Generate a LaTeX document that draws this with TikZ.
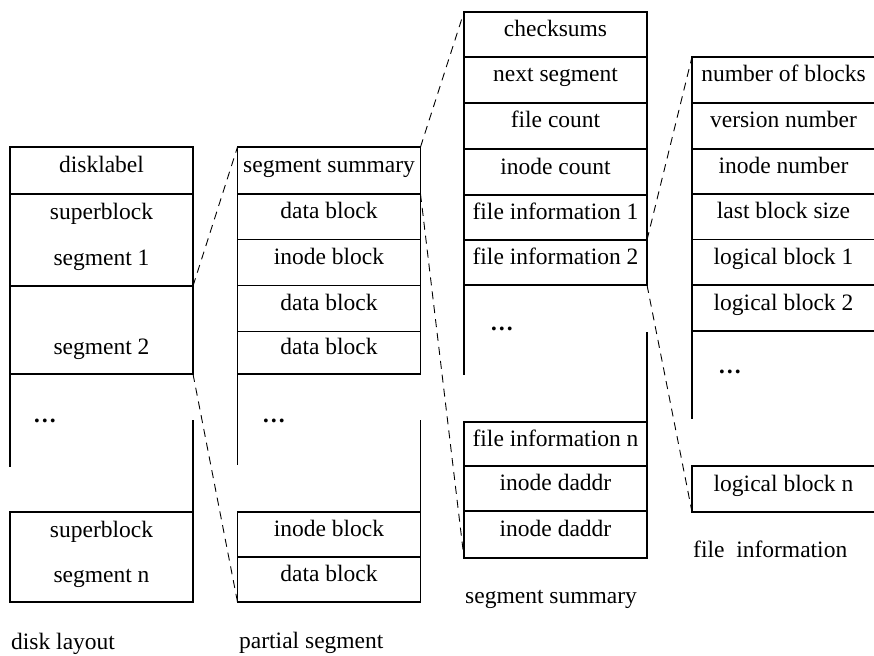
\documentclass[tikz,border=0pt]{standalone}
\usepackage{fontspec}
\setmainfont{Liberation Serif}
\usepackage{tikz}

\begin{document}
\begin{tikzpicture}[x=1pt, y=-1pt,
  font=\fontsize{23.5pt}{28pt}\selectfont,
  cell/.style={draw, line width=1.1pt, minimum width=183pt, inner sep=0pt,
               outer sep=0pt, text height=9pt, text depth=5pt, anchor=north west},
  txt/.style={inner sep=0pt, text height=9pt, text depth=5pt},
  side/.style={line width=1.1pt},
  zoomline/.style={line width=0.9pt, dash pattern=on 8pt off 6pt},
  dots/.style={inner sep=0pt, anchor=base west, font=\fontsize{23.5pt}{28pt}\selectfont\bfseries},
  caption/.style={inner sep=0pt, anchor=base west}
]
  \clip (0,0) rectangle (874,655);

  % Disk layout
  \node[cell, minimum height=47pt] (dlabel) at (10,147) {disklabel};
  \node[cell, minimum height=92pt] (seg1) at (10,194) {};
  \node[txt] (sb1) at ([yshift=23pt]seg1.center) {superblock};
  \node[txt] (seg1t) at ([yshift=-23pt]seg1.center) {segment 1};
  \node[cell, minimum height=88pt] (seg2) at (10,286) {};
  \node[txt] (seg2t) at ([yshift=-22pt]seg2.center) {segment 2};
  \draw[side] (seg2.south west) -- ++(0,93);
  \node[dots] (dldots) at (33,422) {\ldots};
  \node[cell, minimum height=90pt] (segn) at (10,512) {};
  \draw[side] (segn.north east) -- ++(0,-92);
  \node[txt] (sb2) at ([yshift=22pt]segn.center) {superblock};
  \node[txt] (segnt) at ([yshift=-23pt]segn.center) {segment n};
  \node[caption] (dlcap) at (11,649) {disk layout};

  % Partial segment
  \node[cell, minimum height=47pt] (psum) at (237.5,147) {segment summary};
  \node[cell, minimum height=45.5pt] (db1) at (237.5,194) {data block};
  \node[cell, minimum height=46pt] (ib1) at (237.5,239.5) {inode block};
  \node[cell, minimum height=46pt] (db2) at (237.5,285.5) {data block};
  \node[cell, minimum height=42.5pt] (db3) at (237.5,331.5) {data block};
  \draw[side] (db3.south west) -- ++(0,91);
  \node[dots] (psdots) at (262,422) {\ldots};
  \node[cell, minimum height=45pt] (ib2) at (237.5,512) {inode block};
  \node[cell, minimum height=45pt] (db4) at (237.5,557) {data block};
  \draw[side] (ib2.north east) -- ++(0,-92);
  \node[caption] (pscap) at (239,648) {partial segment};

  % Segment summary
  \node[cell, minimum height=45pt] (cksum) at (464,12) {checksums};
  \node[cell, minimum height=46pt] (nseg) at (464,57) {next segment};
  \node[cell, minimum height=46pt] (fcnt) at (464,103) {file count};
  \node[cell, minimum height=46pt] (icnt) at (464,149) {inode count};
  \node[cell, minimum height=45pt] (finfo1) at (464,195) {file information 1};
  \node[cell, minimum height=45pt] (finfo2) at (464,240) {file information 2};
  \draw[side] (finfo2.south west) -- ++(0,90);
  \node[dots] (ssdots) at (490,330) {\ldots};
  \node[cell, minimum height=44pt] (finfon) at (464,422) {file information n};
  \node[cell, minimum height=45pt] (idaddr1) at (464,466) {inode daddr};
  \node[cell, minimum height=47pt] (idaddr2) at (464,511) {inode daddr};
  \draw[side] (finfon.north east) -- ++(0,-90);
  \node[caption] (sscap) at (465,603) {segment summary};

  % File information
  \node[cell, minimum height=46pt] (nblk) at (692,57) {number of blocks};
  \node[cell, minimum height=46pt] (vnum) at (692,103) {version number};
  \node[cell, minimum height=45pt] (inum) at (692,149) {inode number};
  \node[cell, minimum height=45.5pt] (lbsz) at (692,194) {last block size};
  \node[cell, minimum height=45.5pt] (lblk1) at (692,239.5) {logical block 1};
  \node[cell, minimum height=46pt] (lblk2) at (692,285) {logical block 2};
  \draw[side] (lblk2.south west) -- ++(0,88);
  \node[dots] (fidots) at (718,373) {\ldots};
  \node[cell, minimum height=46pt] (lblkn) at (692,466) {logical block n};
  \node[caption] (ficap) at (693,557) {file\enspace information};

  % Zoom lines
  \draw[zoomline] (seg1.south east) -- (psum.north west);
  \draw[zoomline] (seg2.south east) -- (db4.south west);
  \draw[zoomline] (psum.north east) -- (cksum.north west);
  \draw[zoomline] (psum.south east) -- (idaddr2.south west);
  \draw[zoomline] (finfo1.south east) -- (nblk.north west);
  \draw[zoomline] (finfo2.south east) -- (lblkn.south west);
\end{tikzpicture}
\end{document}
